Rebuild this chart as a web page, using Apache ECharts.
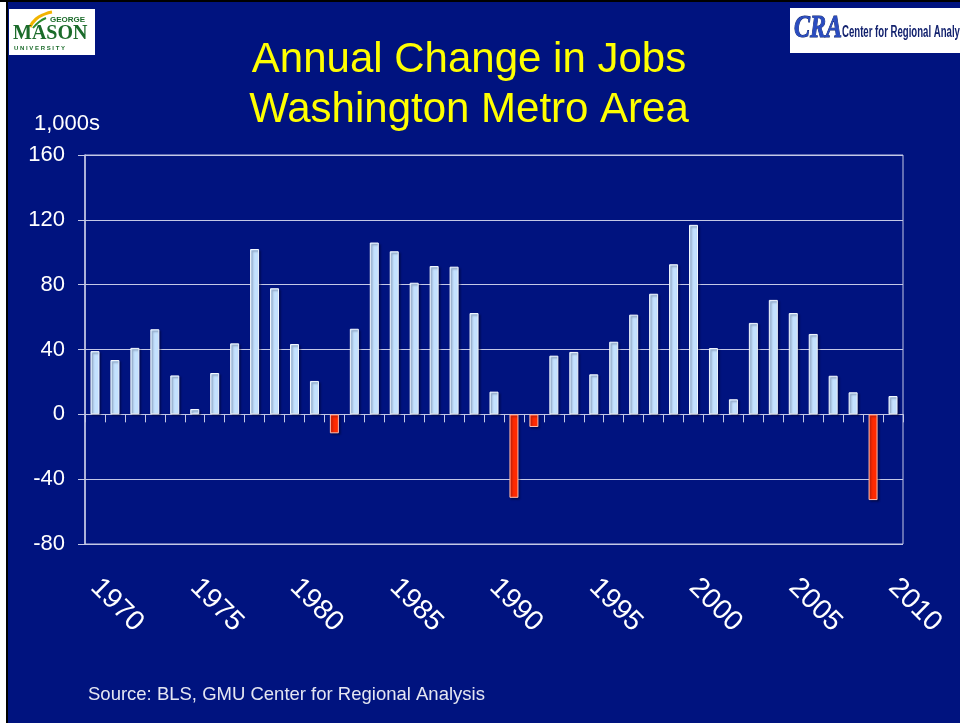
<!DOCTYPE html>
<html>
<head>
<meta charset="utf-8">
<title>Annual Change in Jobs</title>
<script src="https://cdn.jsdelivr.net/npm/echarts@6/dist/echarts.min.js"></script>
<style>
  html, body { margin: 0; padding: 0; background: #ffffff; }
  #chart { width: 960px; height: 723px; }
</style>
</head>
<body>
<div id="chart"></div>
<script>
  // years on the category axis
  const years = [];
  for (let y = 1970; y <= 2010; y++) years.push(String(y));

  // annual change in jobs, thousands
  const jobChange = [
    39, 33.5, 41, 52.5, 24, 3.3, 25.5, 43.8, 102, 77.8,
    43.4, 20.6, -11.7, 52.8, 106, 100.6, 81.2, 91.5, 91.1, 62.5,
    14, -51.5, -7.8, 36.2, 38.5, 24.7, 44.8, 61.5, 74.4, 92.6,
    116.9, 40.9, 9.3, 56.4, 70.6, 62.5, 49.6, 23.8, 13.6, -52.9,
    11.3
  ];

  const yTicks = { min: -80, max: 160, interval: 40 };

  const bg = "#00137f";
  const lineColor = "#c4c8e6";

  const chart = echarts.init(document.getElementById("chart"));

  const barData = jobChange.map(v => ({
    value: v,
    itemStyle: v < 0
      ? { color: "#ff2a00", borderColor: "#ffc0b0" }
      : { color: "#c4e2ff", borderColor: "#f4faff" }
  }));

  const option = {
    backgroundColor: bg,
    animation: false,
    grid: {
      left: 85,
      right: 57,
      top: 155,
      bottom: 179,
      show: true,
      borderColor: lineColor,
      borderWidth: 1,
      backgroundColor: "transparent"
    },
    xAxis: [
      {
        // labels along the bottom
        type: "category",
        data: years,
        position: "bottom",
        axisLine: { show: false, onZero: false },
        axisTick: { show: false },
        splitLine: { show: false },
        axisLabel: {
          interval: 4,
          rotate: -45,
          margin: 39,
          color: "#ffffff",
          fontSize: 28,
          fontFamily: "Liberation Sans, Arial, sans-serif"
        }
      },
      {
        // zero line with the small ticks
        type: "category",
        data: years,
        position: "top",
        axisLine: { show: true, onZero: true, lineStyle: { color: lineColor, width: 1 } },
        axisTick: { show: true, inside: true, interval: 0, length: 8, lineStyle: { color: lineColor } },
        axisLabel: { show: false },
        splitLine: { show: false }
      }
    ],
    yAxis: {
      type: "value",
      min: yTicks.min,
      max: yTicks.max,
      interval: yTicks.interval,
      axisLine: { show: true, lineStyle: { color: lineColor, width: 1.5 } },
      axisTick: { show: true, length: 7, lineStyle: { color: lineColor } },
      splitLine: { show: true, lineStyle: { color: lineColor, width: 1 } },
      axisLabel: {
        margin: 20,
        color: "#ffffff",
        fontSize: 22,
        fontFamily: "Liberation Sans, Arial, sans-serif"
      }
    },
    series: [
      {
        type: "bar",
        xAxisIndex: 0,
        data: barData,
        barWidth: 9,
        itemStyle: {
          borderWidth: 1,
          shadowColor: "rgba(0,0,30,0.45)",
          shadowBlur: 2,
          shadowOffsetX: 1.5,
          shadowOffsetY: 1.5
        }
      }
    ],
    graphic: [
      // slide frame edges
      { type: "rect", left: 0, top: 0, shape: { width: 6, height: 723 }, style: { fill: "#ffffff" } },
      { type: "rect", left: 6, top: 0, shape: { width: 2, height: 723 }, style: { fill: "#000000" } },
      { type: "rect", left: 0, top: 0, shape: { width: 960, height: 2 }, style: { fill: "#000000" } },

      // George Mason logo
      { type: "rect", left: 9, top: 9, shape: { width: 86, height: 46 }, style: { fill: "#ffffff" } },
      {
        type: "polyline", z: 10,
        shape: { points: [[30, 27], [36, 19], [45, 14], [52, 12]], smooth: 0.5 },
        style: { stroke: "#f2b400", lineWidth: 3, fill: null }
      },
      {
        type: "polyline", z: 10,
        shape: { points: [[33, 28], [39, 22], [46, 18]], smooth: 0.5 },
        style: { stroke: "#2e8b2e", lineWidth: 2, fill: null }
      },
      {
        type: "text", z: 10, left: 50, top: 16,
        style: { text: "GEORGE", fill: "#1b6b2a", font: "bold 8px Liberation Sans, Arial, sans-serif" }
      },
      {
        type: "text", z: 10, left: 13, top: 24,
        style: { text: "MASON", fill: "#1b6b2a", font: "bold 20px Liberation Serif, Times New Roman, serif" }
      },
      {
        type: "text", z: 10, left: 14, top: 45,
        style: { text: "U N I V E R S I T Y", fill: "#1b6b2a", font: "bold 6px Liberation Sans, Arial, sans-serif" }
      },

      // Center for Regional Analysis logo
      { type: "rect", left: 790, top: 8, shape: { width: 170, height: 45 }, style: { fill: "#ffffff" } },
      {
        type: "text", z: 10, x: 794, y: 13, scaleX: 0.75,
        style: {
          text: "CRA", fill: "#2a4cc0", stroke: "#0b1f66", lineWidth: 1,
          font: "italic bold 32px Liberation Serif, Times New Roman, serif"
        }
      },
      {
        type: "text", z: 10, x: 842, y: 25, scaleX: 0.6,
        style: { text: "Center for Regional Analysis", fill: "#13226e", font: "bold 16px Liberation Sans, Arial, sans-serif" }
      },

      // title
      {
        type: "text", x: 469, y: 35, z: 10,
        style: {
          text: "Annual Change in Jobs\nWashington Metro Area",
          fill: "#ffff00",
          font: "42px Liberation Sans, Arial, sans-serif",
          lineHeight: 50,
          align: "center"
        }
      },

      // units label
      {
        type: "text", left: 34, top: 113,
        style: { text: "1,000s", fill: "#ffffff", font: "22px Liberation Sans, Arial, sans-serif" }
      },

      // source note
      {
        type: "text", left: 88, top: 685,
        style: { text: "Source: BLS, GMU Center for Regional Analysis", fill: "#e4e6f2", font: "18.5px Liberation Sans, Arial, sans-serif" }
      }
    ]
  };

  chart.setOption(option);

  window.addEventListener("resize", () => {
    chart.resize();
  });
</script>
</body>
</html>
